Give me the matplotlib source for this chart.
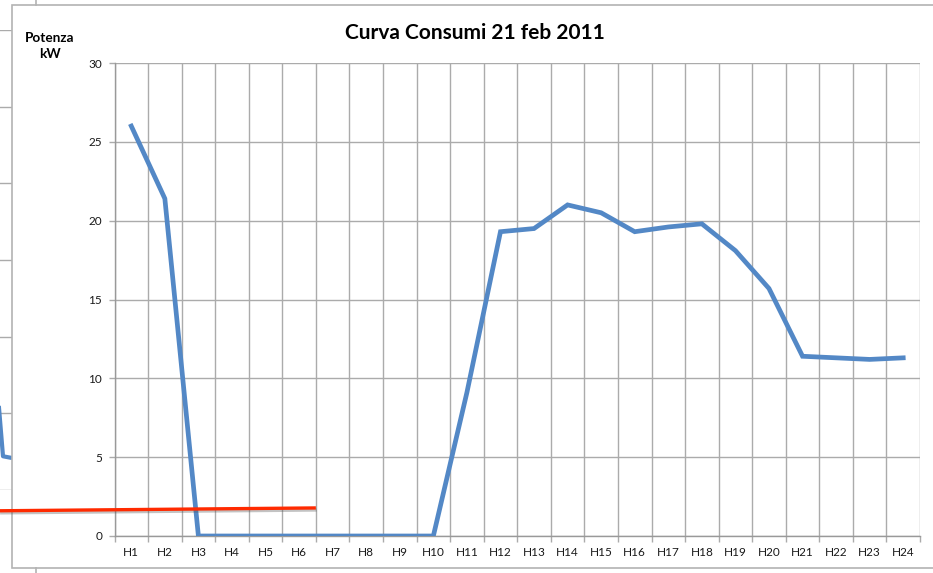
import matplotlib
matplotlib.use("Agg")
import matplotlib.pyplot as plt
import matplotlib.patheffects as pe
from matplotlib.patches import Rectangle
from matplotlib.lines import Line2D
import numpy as np

# ---------------- data ----------------
hours = ["H%d" % i for i in range(1, 25)]
power_kw = [26.0, 21.4, 0.0, 0.0, 0.0, 0.0, 0.0, 0.0, 0.0, 0.0,
            9.1, 19.3, 19.5, 21.0, 20.5, 19.3, 19.6, 19.8,
            18.1, 15.7, 11.4, 11.3, 11.2, 11.3]
y_ticks = [0, 5, 10, 15, 20, 25, 30]
title = "Curva Consumi 21 feb 2011"
y_label = "Potenza\nkW"

# red reference line (hand drawn over the sheet), in chart data units
red_x = [-3.93, 5.5]
red_y = [1.60, 1.78]

# chart partly hidden behind (left edge of the sheet)
back_x = [0, 1, 2, 3, 4, 5, 6]
back_vals = [8.5, 2.2, 2.1, 2.1, 2.1, 2.1, 2.1]

W, H = 933, 573
fig = plt.figure(figsize=(W / 100, H / 100), dpi=100)
fig.patch.set_facecolor("white")

def fx(px):
    return px / W

def fy(py):
    return 1 - py / H

font = "Lato"
grid_c = "#ababab"
frame_c = "#b3b3b3"
blue = "#5388c6"

# ---------- chart behind ----------
ax_back = fig.add_axes([fx(-45), fy(490), fx(145), (490 - 30) / H], zorder=0)
ax_back.set_xlim(-5, 13.125)
ax_back.set_ylim(0, 30)
ax_back.plot(back_x, back_vals, color=blue, lw=3.0, solid_joinstyle="round")
ax_back.set_yticks(y_ticks)
ax_back.grid(axis="y", color=grid_c, lw=1.0)
ax_back.tick_params(left=False, bottom=False, labelleft=False, labelbottom=False)
for s in ax_back.spines.values():
    s.set_visible(False)

# ---------- chart area frame ----------
ax_frame = fig.add_axes([0, 0, 1, 1], zorder=1)
ax_frame.set_xlim(0, W)
ax_frame.set_ylim(H, 0)
ax_frame.axis("off")
ax_frame.add_patch(Rectangle((12, 4.5), W + 10, 563.5, facecolor="white",
                             edgecolor=frame_c, lw=1.2))
ax_frame.add_line(Line2D([36, 36], [0, 4.5], color=frame_c, lw=1.2))
ax_frame.add_line(Line2D([36, 36], [568, 573], color=frame_c, lw=1.2))

# ---------- main chart ----------
left_px, right_px, top_px, bot_px = 114.5, 920, 63, 536
ax = fig.add_axes([fx(left_px), fy(bot_px), fx(right_px - left_px), (bot_px - top_px) / H],
                  zorder=2)
ax.set_facecolor("white")
x = np.arange(len(hours))
ax.plot(x, power_kw, color=blue, lw=3.4, solid_joinstyle="miter", zorder=3)

ax.set_xlim(-0.5, len(hours) - 0.5)
ax.set_ylim(0, 30)
ax.set_yticks(y_ticks)
ax.set_xticks(x)
ax.set_xticklabels(hours, fontfamily=font, fontsize=8.5, color="#1a1a1a")
ax.set_yticklabels([str(v) for v in y_ticks], fontfamily=font, fontsize=8.5, color="#1a1a1a")
ax.set_xticks(np.arange(-0.5, len(hours), 1.0), minor=True)
ax.tick_params(axis="x", which="major", length=0, pad=8)
ax.tick_params(axis="x", which="minor", length=4, color=grid_c, width=1.0, direction="out")
ax.tick_params(axis="y", which="major", length=4, color=grid_c, width=1.0, pad=5)
ax.grid(axis="y", which="major", color=grid_c, lw=1.0, zorder=1)
ax.grid(axis="x", which="minor", color=grid_c, lw=1.0, zorder=1)
ax.set_axisbelow(True)
for s in ["top", "right"]:
    ax.spines[s].set_visible(False)
for s in ["left", "bottom"]:
    ax.spines[s].set_color("#999999")
    ax.spines[s].set_linewidth(1.0)

# red hand-drawn line with shadow
ax.plot(red_x, red_y, color="#ff2a00", lw=2.4, clip_on=False, zorder=5,
        solid_capstyle="butt",
        path_effects=[pe.SimpleLineShadow(offset=(0.5, -1.5), shadow_color="#555555", alpha=0.35),
                      pe.Normal()])

# texts
fig.text(fx(475), fy(33), title, ha="center", va="center", fontfamily=font,
         fontweight="bold", fontsize=15, color="black", zorder=6)
fig.text(fx(50), fy(46), y_label, ha="center", va="center", fontfamily=font,
         fontweight="bold", fontsize=9.8, color="black", linespacing=1.3, zorder=6)

fig.savefig("out.png", dpi=100, facecolor="white")
